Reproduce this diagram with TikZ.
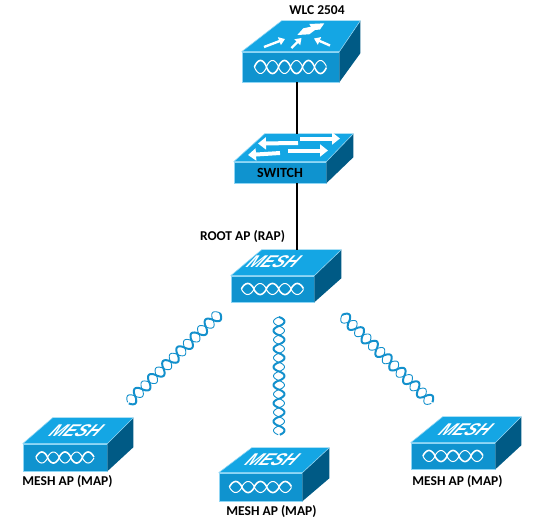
\documentclass[tikz,border=0pt]{standalone}
\usepackage{fontspec}
\setmainfont{Carlito}
\newfontfamily\meshfont{Liberation Sans}
\usetikzlibrary{arrows.meta,calc}
\definecolor{facefront}{HTML}{0F93CF}
\definecolor{facetop}{HTML}{14A6E4}
\definecolor{faceside}{HTML}{005A85}
\definecolor{faceedge}{HTML}{8FD6F5}
\definecolor{linkblue}{HTML}{1390CC}
\tikzset{
  front/.style={rectangle, fill=facefront, draw=faceedge, line width=0.6pt, inner sep=0pt, minimum width=#1},
  tag/.style={font=\bfseries\fontsize{13.5}{15}\selectfont, text=black, inner sep=0pt},
  wire/.style={line width=1.5pt, draw=black},
  iconarrow/.style={white, line width=2.4pt, -{Triangle[length=6pt,width=8pt]}},
  swarrow/.style={white, line width=4pt, -{Triangle[length=8pt,width=12pt]}},
  meshtag/.style={font=\meshfont\bfseries\itshape\fontsize{17}{17}\selectfont, text=white, xslant=0.75, transform shape, inner sep=0pt}
}
% lid and side of a box, from its front node: name, left dx, right dx, rise
\newcommand{\lid}[4]{
  \fill[facetop] (#1.north west) -- ++(#2,-#4) -- ($(#1.north east)+(#3,-#4)$) -- (#1.north east) -- cycle;
  \fill[faceside] (#1.north east) -- ++(#3,-#4) -- ($(#1.south east)+(#3,-#4+2)$) -- (#1.south east) -- cycle;
  \draw[faceedge, line width=0.6pt] (#1.north west) -- (#1.north east) -- ++(#3,-#4) (#1.north west) -- ++(#2,-#4);
}
% twisted pair between two coordinates: from, to, colour, amplitude, lobes, thick, thin
\newcommand{\twist}[7]{
  \draw[#3, line width=#6, line join=round] let \p1=(#1), \p2=($(#2)-(#1)$), \n1={veclen(\x2,\y2)} in
    plot[variable=\t, domain=0:1, samples=150, smooth] ({\x1+\t*\x2-#4*\y2/\n1*sin(180*#5*\t)*pow(abs(sin(180*#5*\t))+0.001,-0.25)},{\y1+\t*\y2+#4*\x2/\n1*sin(180*#5*\t)*pow(abs(sin(180*#5*\t))+0.001,-0.25)});
  \draw[#3, line width=#7, line join=round] let \p1=(#1), \p2=($(#2)-(#1)$), \n1={veclen(\x2,\y2)} in
    plot[variable=\t, domain=0:1, samples=150, smooth] ({\x1+\t*\x2+#4*\y2/\n1*sin(180*#5*\t)*pow(abs(sin(180*#5*\t))+0.001,-0.25)},{\y1+\t*\y2-#4*\x2/\n1*sin(180*#5*\t)*pow(abs(sin(180*#5*\t))+0.001,-0.25)});
}
% white wave on a front: name, half width, amplitude, lobes
\newcommand{\wavemark}[4]{
  \coordinate (#1wa) at ($(#1.center)+(-#2,0)$);
  \coordinate (#1wb) at ($(#1.center)+(#2,0)$);
  \twist{#1wa}{#1wb}{white}{#3}{#4}{1.6pt}{1pt}
}
\begin{document}
\begin{tikzpicture}[x=1pt, y=-1pt]
  \useasboundingbox (0,0) rectangle (535,531);
  % boxes
  \node[front=97pt, minimum height=30pt] (wlc) at (290.5,67) {};
  \node[front=92pt, minimum height=21pt, font=\bfseries\fontsize{14}{14}\selectfont, text=black] (switch) at (280,172.5) {SWITCH};
  \node[front=83pt, minimum height=26pt] (rap) at (272.5,289) {};
  \node[front=84pt, minimum height=27pt] (map1) at (65,457.5) {};
  \node[front=83pt, minimum height=28pt] (map2) at (260.5,487) {};
  \node[front=84pt, minimum height=26pt] (map3) at (453,456) {};

  \lid{wlc}{40}{21}{31}
  \lid{switch}{31}{27}{28}
  \lid{rap}{31}{27}{26}
  \lid{map1}{30}{26}{26}
  \lid{map2}{33}{27}{25}
  \lid{map3}{32}{26}{26}

  \wavemark{wlc}{36}{6.5}{6}
  \wavemark{rap}{31}{5.5}{5}
  \wavemark{map1}{29}{5.5}{5}
  \wavemark{map2}{31}{5.5}{5}
  \wavemark{map3}{30}{5.5}{5}

  % wired links
  \coordinate (swtop) at (297,134);
  \coordinate (raptop) at (297,250);
  \draw[wire] (wlc.south -| swtop) -- (swtop);
  \draw[wire] (switch.south -| raptop) -- (raptop);

  % radio links
  \coordinate (left1) at (220,313);
  \coordinate (left2) at (128,403);
  \coordinate (mid1) at (279,317);
  \coordinate (mid2) at (279,435);
  \coordinate (right1) at (342,315);
  \coordinate (right2) at (432,403);
  \twist{left1}{left2}{linkblue}{5.5}{13}{2pt}{0.9pt}
  \twist{mid1}{mid2}{linkblue}{5.5}{13}{2pt}{0.9pt}
  \twist{right1}{right2}{linkblue}{5.5}{13}{2pt}{0.9pt}

  % lid marks
  \fill[white] (297.3,35) -- (309.3,34.3) -- (315,30) -- (320,29.5) -- (324.3,23.3) -- (309.3,24) -- (311,26.7) -- (303.3,28.3) -- cycle;
  \draw[iconarrow] (264,47) -- (285,39);
  \draw[iconarrow] (291.5,48) -- (301.5,38);
  \draw[iconarrow] (330,45.5) -- (314,38.5);
  \draw[swarrow] (298,143) -- (258,143.5);
  \draw[swarrow] (300,138.5) -- (340,138.5);
  \draw[swarrow] (288,150.5) -- (328,150.5);
  \draw[swarrow] (280,153) -- (248,155);

  \node[meshtag] (meshb) at (274,262) {MESH};
  \node[meshtag] (meshc) at (76.5,431) {MESH};
  \node[meshtag] (meshd) at (272.5,460) {MESH};
  \node[meshtag] (meshe) at (466,429.5) {MESH};

  % labels
  \node[tag] (wlclabel) at (317,10) {WLC 2504};
  \node[tag] (raplabel) at (242.5,237) {ROOT AP (RAP)};
  \node[tag] (map1label) at (67.5,482) {MESH AP (MAP)};
  \node[tag] (map2label) at (271.5,512) {MESH AP (MAP)};
  \node[tag] (map3label) at (457.5,482) {MESH AP (MAP)};
\end{tikzpicture}
\end{document}
